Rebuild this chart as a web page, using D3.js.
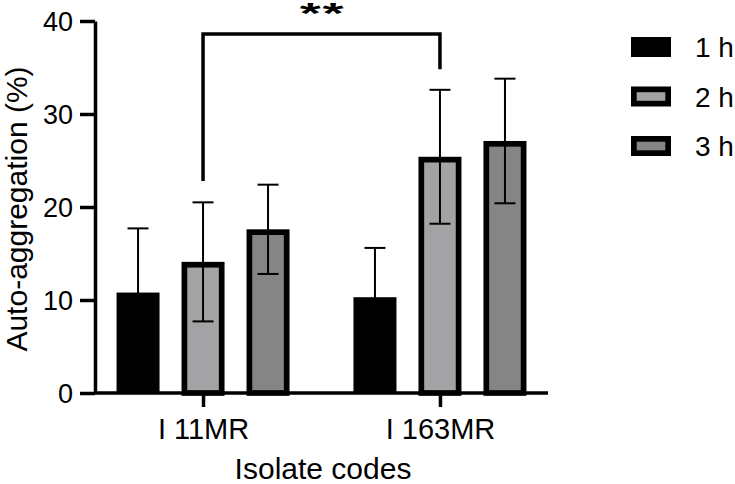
<!DOCTYPE html>
<html>
<head>
<meta charset="utf-8">
<script src="https://cdn.jsdelivr.net/npm/d3@7"></script>
<style>
  body { margin: 0; background: #fff; }
  svg text { font-family: "Liberation Sans", Arial, sans-serif; fill: #000; }
</style>
</head>
<body>
<svg id="chart"></svg>
<script>
// isolates and sampling times
const isolates = ['I 11MR', 'I 163MR'];
const times = ['1 h', '2 h', '3 h'];

// mean auto-aggregation (%) per isolate, one array per time
const mean1h = [10.8, 10.3];
const mean2h = [14.1, 25.4];
const mean3h = [17.6, 27.1];

// error (SD) per isolate, one array per time
const err1h = [6.9, 5.3];
const err2h = [6.4, 7.2];
const err3h = [4.8, 6.7];

const yTicks = [0, 10, 20, 30, 40];

const fills = ['#000000', '#a3a3a6', '#858585'];

const width = 735, height = 484;
const margin = {top: 21, right: 187, bottom: 91, left: 95};

const svg = d3.select('#chart')
  .attr('width', width)
  .attr('height', height);

const innerW = width - margin.left - margin.right;
const innerH = height - margin.top - margin.bottom;

const chart = svg.append('g')
  .attr('transform', `translate(${margin.left},${margin.top})`);

// scales
const x0 = d3.scalePoint().domain(isolates).range([0, innerW]).padding(0.456);
const x1 = d3.scalePoint().domain(times).range([-65, 65]);
const y = d3.scaleLinear().domain([0, 40]).range([innerH, 0]);
const barW = 43;
const sw = 5.7;

// build rows from the arrays
const means = [mean1h, mean2h, mean3h];
const errs = [err1h, err2h, err3h];
const rows = [];
isolates.forEach((iso, i) => {
  times.forEach((t, j) => {
    rows.push({iso, t, j, v: means[j][i], e: errs[j][i]});
  });
});

// bars (outlined ones are inset by half the stroke so the outer edge sits on the value)
chart.selectAll('.bar')
  .data(rows)
  .join('rect')
  .attr('class', 'bar')
  .attr('x', d => x0(d.iso) + x1(d.t) - barW / 2 + (d.j ? sw / 2 : 0))
  .attr('y', d => y(d.v) + (d.j ? sw / 2 : 0))
  .attr('width', d => barW - (d.j ? sw : 0))
  .attr('height', d => y(0) - y(d.v) - (d.j ? sw / 2 : 0))
  .attr('fill', d => fills[d.j])
  .attr('stroke', d => d.j ? '#000' : 'none')
  .attr('stroke-width', sw);

// error bars
const eb = chart.selectAll('.err')
  .data(rows)
  .join('g')
  .attr('class', 'err')
  .attr('transform', d => `translate(${x0(d.iso) + x1(d.t)},0)`);

eb.append('line')
  .attr('y1', d => y(d.v + d.e))
  .attr('y2', d => y(d.v - d.e))
  .attr('stroke', '#000')
  .attr('stroke-width', 2);

eb.selectAll('.cap')
  .data(d => [d.v + d.e, d.v - d.e])
  .join('line')
  .attr('class', 'cap')
  .attr('x1', -10.5).attr('x2', 10.5)
  .attr('y1', v => y(v)).attr('y2', v => y(v))
  .attr('stroke', '#000')
  .attr('stroke-width', 2);

// axes
const yAxis = d3.axisLeft(y).tickValues(yTicks).tickSize(15).tickPadding(7).tickSizeOuter(0);
const yG = chart.append('g').call(yAxis);

const xAxis = d3.axisBottom(x0).tickSize(14).tickPadding(11).tickSizeOuter(0);
const xG = chart.append('g').attr('transform', `translate(0,${innerH})`).call(xAxis);
xG.select('.domain').attr('d', `M0,0H${innerW}`);

[yG, xG].forEach(g => {
  g.selectAll('.domain').attr('stroke', '#000').attr('stroke-width', 3.5);
  g.selectAll('.tick line').attr('stroke', '#000').attr('stroke-width', 3.5);
  g.selectAll('.tick text').attr('font-size', 28).attr('fill', '#000')
    .style('font-family', '"Liberation Sans", Arial, sans-serif');
});
yG.selectAll('.tick text').attr('font-size', 27).attr('dy', '0.36em');
xG.selectAll('.tick text').attr('font-size', 29);

// axis titles
svg.append('text')
  .attr('transform', `translate(27,${margin.top + innerH / 2 + 2}) rotate(-90)`)
  .attr('text-anchor', 'middle')
  .attr('font-size', 30)
  .text('Auto-aggregation (%)');

svg.append('text')
  .attr('x', 323)
  .attr('y', 479)
  .attr('text-anchor', 'middle')
  .attr('font-size', 30)
  .text('Isolate codes');

// significance bracket between 2 h bars
const bx1 = x0(isolates[0]) + x1('2 h');
const bx2 = x0(isolates[1]) + x1('2 h');
const bTop = y(38.6);
chart.append('path')
  .attr('d', `M${bx1},${y(22.8)}V${bTop}H${bx2}V${y(34.8)}`)
  .attr('fill', 'none')
  .attr('stroke', '#000')
  .attr('stroke-width', 3.5);

chart.append('text')
  .attr('transform', `translate(${(bx1 + bx2) / 2 + 1},${bTop - 11}) scale(1.8,1)`)
  .attr('text-anchor', 'middle')
  .attr('font-size', 30)
  .attr('font-weight', 'bold')
  .attr('letter-spacing', 1)
  .text('**');

// legend
const legend = svg.append('g').attr('transform', 'translate(631,37)');
const li = legend.selectAll('g')
  .data(times)
  .join('g')
  .attr('transform', (d, i) => `translate(0,${i * 49.5})`);

li.append('rect')
  .attr('x', (d, i) => i ? sw / 2 : 0)
  .attr('y', (d, i) => i ? sw / 2 : 0)
  .attr('width', (d, i) => 40 - (i ? sw : 0))
  .attr('height', (d, i) => 20 - (i ? sw : 0))
  .attr('fill', (d, i) => fills[i])
  .attr('stroke', (d, i) => i ? '#000' : 'none')
  .attr('stroke-width', sw);

li.append('text')
  .attr('x', 64)
  .attr('y', 10)
  .attr('dy', '0.36em')
  .attr('font-size', 28)
  .text(d => d);
</script>
</body>
</html>
